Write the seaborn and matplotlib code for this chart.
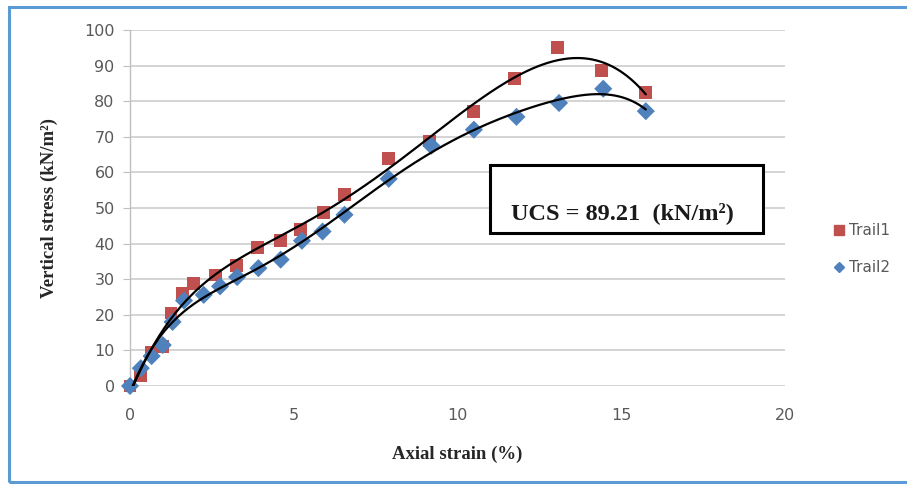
import numpy as np
import pandas as pd
import matplotlib
matplotlib.use("Agg")
import matplotlib.pyplot as plt
from matplotlib.patches import Rectangle
from matplotlib.lines import Line2D
import seaborn as sns

# ---- data ----
strain_t1 = [0, 0.33, 0.66, 1.0, 1.25, 1.6, 1.95, 2.6, 3.25, 3.9, 4.6, 5.2, 5.9, 6.55,
             7.9, 9.15, 10.5, 11.75, 13.05, 14.4, 15.75]
stress_t1 = [0, 3, 9.5, 11, 20.5, 26, 28.7, 31.2, 33.8, 38.8, 40.9, 43.9, 48.8, 53.7,
             63.8, 68.8, 77, 86.3, 95, 88.7, 82.4]
strain_t2 = [0, 0.33, 0.66, 1.0, 1.3, 1.65, 2.25, 2.75, 3.27, 3.92, 4.6, 5.25, 5.88, 6.55,
             7.9, 9.2, 10.5, 11.8, 13.1, 14.45, 15.75]
stress_t2 = [0, 5, 8.4, 11.5, 18, 24, 25.6, 28, 30.6, 33.1, 35.5, 40.8, 43.4, 48.1,
             58.2, 67.5, 72, 75.6, 79.5, 83.5, 77.2]
series_names = ["Trail1", "Trail2"]
x_ticks = [0, 5, 10, 15, 20]
y_ticks = [0, 10, 20, 30, 40, 50, 60, 70, 80, 90, 100]
ucs_text = "UCS = 89.21  (kN/m²)"

df = pd.DataFrame({
    "strain": strain_t1 + strain_t2,
    "stress": stress_t1 + stress_t2,
    "series": [series_names[0]] * len(strain_t1) + [series_names[1]] * len(strain_t2),
})

sns.set_style("white")
plt.rcParams["font.family"] = ["DejaVu Sans"]

fig = plt.figure(figsize=(9.07, 4.86), dpi=100)
ax = fig.add_axes([130 / 907, 1 - 386 / 486, (785 - 130) / 907, (386 - 30) / 486])

# outer frame
fig.patches.append(Rectangle((9 / 907, 4 / 486), 1.2, 1 - 11 / 486, transform=fig.transFigure,
                             fill=False, edgecolor="#5B9BD5", linewidth=2.2))

red = "#C0504D"
blue = "#4F81BD"

# polynomial trend lines (order 6, as an Excel polynomial trendline)
for xs, ys in [(strain_t1, stress_t1), (strain_t2, stress_t2)]:
    coef = np.polyfit(xs, ys, 6)
    xx = np.linspace(min(xs), max(xs), 300)
    sns.lineplot(x=xx, y=np.polyval(coef, xx), ax=ax, color="black", linewidth=1.6,
                 zorder=4, legend=False)

sns.scatterplot(data=df, x="strain", y="stress", hue="series", style="series",
                palette={"Trail1": red, "Trail2": blue},
                markers={"Trail1": "s", "Trail2": "D"},
                s=85, edgecolor="none", ax=ax, zorder=3, clip_on=False,
                legend=False)

ax.set_xlim(0, 20)
ax.set_ylim(0, 100)
ax.set_xticks(x_ticks)
ax.set_yticks(y_ticks)
ax.grid(axis="y", color="#D4D4D4", linewidth=1.4)
ax.set_axisbelow(True)
for s in ["top", "right", "bottom"]:
    ax.spines[s].set_visible(False)
ax.spines["left"].set_color("#BFBFBF")
ax.spines["left"].set_linewidth(1.0)
ax.tick_params(axis="y", left=True, length=5, color="#BFBFBF", labelsize=11.5,
               labelcolor="#595959", pad=6)
ax.tick_params(axis="x", bottom=False, labelsize=11.5, labelcolor="#595959", pad=12)

ax.set_xlabel("Axial strain (%)", fontfamily="Liberation Serif", fontweight="bold",
              fontsize=13.5, color="#262626", labelpad=17)
ax.set_ylabel("Vertical stress (kN/m²)", fontfamily="Liberation Serif", fontweight="bold",
              fontsize=13.5, color="#262626", labelpad=19)

# annotation box
ax.add_patch(Rectangle(((490 - 130) / 655, (386 - 233) / 356), (763 - 490) / 655, (233 - 165) / 356,
                       transform=ax.transAxes, fill=True, facecolor="white",
                       edgecolor="black", linewidth=2.2, zorder=5))
ax.text((622 - 130) / 655, (386 - 213) / 356, ucs_text, transform=ax.transAxes,
        ha="center", va="center", fontfamily="Liberation Serif", fontweight="bold",
        fontsize=17.5, color="#1a1a1a", zorder=6)

# legend
handles = [Line2D([], [], marker="s", color=red, linestyle="none", markersize=7.5),
           Line2D([], [], marker="D", color=blue, linestyle="none", markersize=5.5)]
fig.legend(handles, series_names, loc="center left", bbox_to_anchor=(818 / 907, 1 - 249 / 486),
           frameon=False, fontsize=11, labelcolor="#595959", handletextpad=0.1,
           labelspacing=1.45, handlelength=1.0)

fig.savefig("out.png", dpi=100)
